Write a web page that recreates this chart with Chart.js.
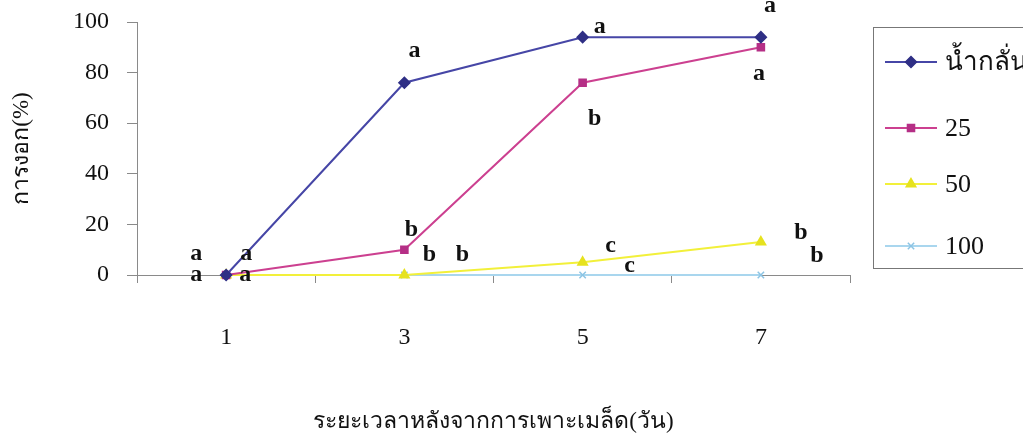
<!DOCTYPE html>
<html>
<head>
<meta charset="utf-8">
<script src="https://cdn.jsdelivr.net/npm/chart.js@4"></script>
<style>
  html, body { margin: 0; padding: 0; background: #fff; }
  #wrap { width: 1023px; height: 440px; }
</style>
</head>
<body>
<div id="wrap"><canvas id="germChart" width="1023" height="440"></canvas></div>
<script>
// Chart data
const days = ['1', '3', '5', '7'];
const seriesNames = ['น้ำกลั่น', '25', '50', '100'];
const waterValues = [0, 76, 94, 94];
const conc25Values = [0, 10, 76, 90];
const conc50Values = [0, 0, 5, 13];
const conc100Values = [0, 0, 0, 0];
const yTicks = [0, 20, 40, 60, 80, 100];

// significance letters for each series at each day
const waterLetters = ['a', 'a', 'a', 'a'];
const conc25Letters = ['a', 'b', 'b', 'a'];
const conc50Letters = ['a', 'b', 'c', 'b'];
const conc100Letters = ['a', 'b', 'c', 'b'];

// where each letter sits relative to its point (pixels)
const letterOffsets = [
    [[-30, -21], [10, -32], [17, -10], [9, -31]],
    [[20, -21], [7, -20], [12, 36], [-2, 26]],
    [[-30, 0], [25, -20], [28, -17], [40, -9]],
    [[19, 0], [58, -20], [47, -9], [56, -19]]
];

const serif = "'Liberation Serif', 'DejaVu Serif', serif";
const axisGrey = '#8a8a8a';
const textColor = '#111';

const styles = [
    { color: '#4646a6', point: '#2f2f85', style: 'rectRot', radius: 5.5 },
    { color: '#cc4090', point: '#b52f86', style: 'rect', radius: 5 },
    { color: '#f2f03a', point: '#e6e21e', style: 'triangle', radius: 5.5 },
    { color: '#a9d6ee', point: '#8cc4e4', style: 'crossRot', radius: 4.5 }
];

const allValues = [waterValues, conc25Values, conc50Values, conc100Values];
const allLetters = [waterLetters, conc25Letters, conc50Letters, conc100Letters];

const datasets = allValues.map(function(values, i) {
    const s = styles[i];
    return {
        label: seriesNames[i],
        data: values,
        borderColor: s.color,
        backgroundColor: s.point,
        pointBackgroundColor: s.point,
        pointBorderColor: s.point,
        pointStyle: s.style,
        pointRadius: s.radius,
        pointBorderWidth: 1.5,
        borderWidth: 2,
        tension: 0,
        clip: false
    };
});

// Letters above/below points
const letterPlugin = {
    id: 'letters',
    afterDatasetsDraw(chart) {
        const ctx = chart.ctx;
        ctx.save();
        ctx.font = 'bold 24px ' + serif;
        ctx.fillStyle = textColor;
        ctx.textAlign = 'center';
        ctx.textBaseline = 'middle';
        chart.data.datasets.forEach(function(ds, i) {
            const meta = chart.getDatasetMeta(i);
            meta.data.forEach(function(pt, j) {
                const off = letterOffsets[i][j];
                ctx.fillText(allLetters[i][j], pt.x + off[0], pt.y + off[1]);
            });
        });
        ctx.restore();
    }
};

// Boxed legend on the right, line + marker like the original
const boxLegendPlugin = {
    id: 'boxLegend',
    afterDraw(chart) {
        const ctx = chart.ctx;
        const left = chart.chartArea.right + 23;
        const top = 27;
        const bottom = 268;
        const rowY = [62, 128, 184, 246];
        ctx.save();
        ctx.strokeStyle = '#777';
        ctx.lineWidth = 1;
        ctx.strokeRect(left + 0.5, top + 0.5, 1040 - left, bottom - top);

        chart.data.datasets.forEach(function(ds, i) {
            const y = rowY[i];
            const x0 = left + 12;
            const x1 = left + 64;
            ctx.strokeStyle = ds.borderColor;
            ctx.lineWidth = 2;
            ctx.beginPath();
            ctx.moveTo(x0, y);
            ctx.lineTo(x1, y);
            ctx.stroke();

            ctx.fillStyle = ds.pointBackgroundColor;
            ctx.strokeStyle = ds.pointBorderColor;
            ctx.lineWidth = 1.5;
            Chart.helpers.drawPoint(ctx, {
                pointStyle: ds.pointStyle,
                radius: ds.pointRadius,
                rotation: 0,
                borderWidth: 1.5
            }, (x0 + x1) / 2, y);

            ctx.fillStyle = textColor;
            ctx.font = '26px ' + serif;
            ctx.textAlign = 'left';
            ctx.textBaseline = 'middle';
            ctx.fillText(ds.label, x1 + 8, y + 1);
        });
        ctx.restore();
    }
};

const ctx = document.getElementById('germChart');

new Chart(ctx, {
    type: 'line',
    data: {
        labels: days,
        datasets: datasets
    },
    options: {
        responsive: false,
        animation: false,
        layout: {
            padding: { top: 22, right: 173, left: 0, bottom: 0 }
        },
        plugins: {
            legend: { display: false },
            tooltip: { enabled: false }
        },
        scales: {
            x: {
                type: 'category',
                offset: true,
                grid: {
                    offset: true,
                    drawOnChartArea: false,
                    tickLength: 8,
                    color: axisGrey
                },
                border: { color: axisGrey, width: 1 },
                ticks: {
                    color: textColor,
                    padding: 40,
                    font: { family: serif, size: 24 }
                },
                title: {
                    display: true,
                    text: 'ระยะเวลาหลังจากการเพาะเมล็ด(วัน)',
                    color: textColor,
                    font: { family: serif, size: 23 },
                    padding: { top: 0, bottom: 4 }
                },
                afterFit: function(scale) {
                    scale.height = 165;
                }
            },
            y: {
                min: 0,
                max: 100,
                afterBuildTicks: function(scale) {
                    scale.ticks = yTicks.map(v => ({ value: v }));
                },
                grid: {
                    drawOnChartArea: false,
                    tickLength: 10,
                    color: axisGrey
                },
                border: { color: axisGrey, width: 1 },
                ticks: {
                    color: textColor,
                    padding: 18,
                    // small line height keeps the top label from pushing the plot down
                    font: { family: serif, size: 24, lineHeight: 0.2 }
                },
                title: {
                    display: true,
                    text: 'การงอก(%)',
                    color: textColor,
                    font: { family: serif, size: 23 },
                    padding: { top: 8, bottom: 0 }
                },
                afterFit: function(scale) {
                    scale.width = 137;
                }
            }
        }
    },
    plugins: [letterPlugin, boxLegendPlugin]
});
</script>
</body>
</html>
